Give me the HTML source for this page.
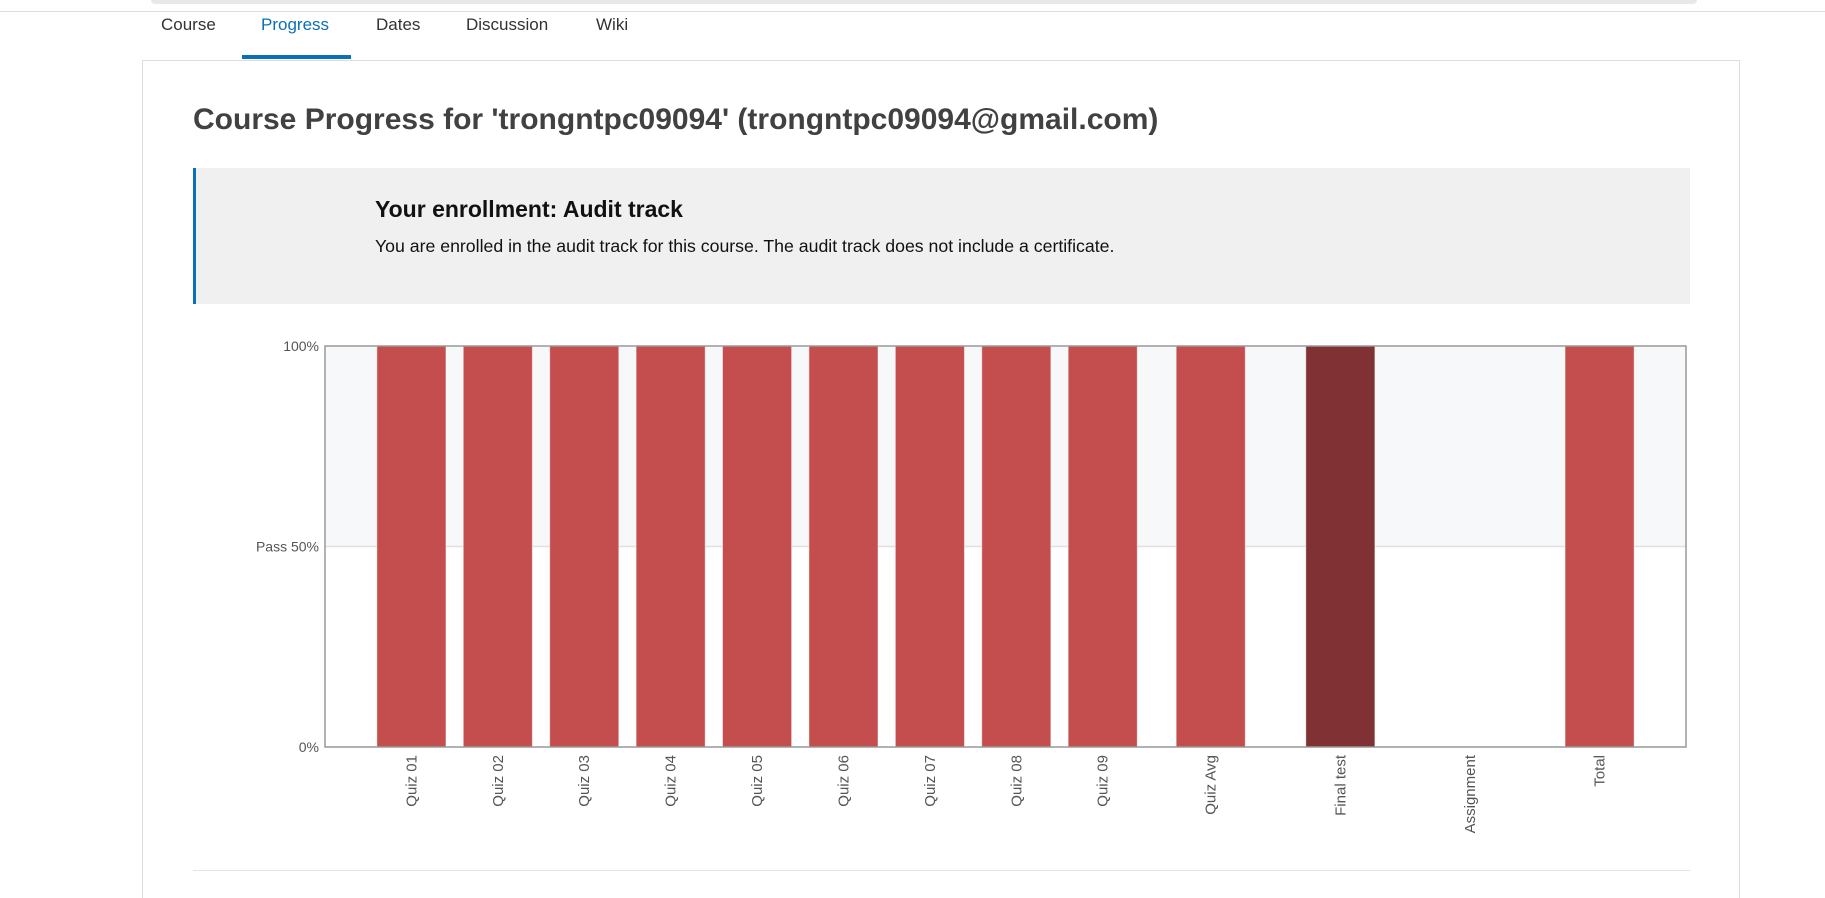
<!DOCTYPE html>
<html style="overflow:hidden;height:898px"><head><meta charset="utf-8"><style>
body{margin:0;width:1825px;height:898px;overflow:hidden;background:#fff;font-family:"Liberation Sans",sans-serif;position:relative}
.abs{position:absolute}
.tab{position:absolute;top:15px;font-size:17px;color:#333}
</style></head><body>
<div class="abs" style="left:151px;top:0;width:1546px;height:4px;background:#e8e8e8;border-radius:0 0 6px 6px"></div>
<div class="abs" style="left:0;top:11px;width:1825px;height:1px;background:#ddd"></div>
<div class="tab" style="left:161px">Course</div>
<div class="tab" style="left:261px;color:#0a70b8">Progress</div>
<div class="tab" style="left:376px">Dates</div>
<div class="tab" style="left:466px">Discussion</div>
<div class="tab" style="left:596px">Wiki</div>
<div class="abs" style="left:242px;top:55px;width:109px;height:4px;background:#0a70b8"></div>
<div class="abs" style="left:142px;top:60px;width:1598px;height:838px;border:1px solid #ddd;border-bottom:none;box-sizing:border-box"></div>
<div class="abs" style="left:193px;top:103px;font-size:30px;font-weight:bold;color:#414141">Course Progress for 'trongntpc09094' (trongntpc09094@gmail.com)</div>
<div class="abs" style="left:193px;top:168px;width:1497px;height:136px;background:#f0f0f0;border-left:3px solid #0a70b8;box-sizing:border-box"></div>
<div class="abs" style="left:375px;top:196px;font-size:23px;font-weight:bold;color:#111">Your enrollment: Audit track</div>
<div class="abs" style="left:375px;top:236px;font-size:17.7px;color:#111">You are enrolled in the audit track for this course. The audit track does not include a certificate.</div>
<svg class="abs" style="left:0;top:0" width="1825" height="898" id="chart"></svg>
<div class="abs" style="left:193px;top:870px;width:1497px;height:1px;background:#e4e4e4"></div>
<script>
const categories=["Quiz 01","Quiz 02","Quiz 03","Quiz 04","Quiz 05","Quiz 06","Quiz 07","Quiz 08","Quiz 09","Quiz Avg","Final test","Assignment","Total"];
const xPositions=[1,2,3,4,5,6,7,8,9,10.25,11.75,13.25,14.75];
const scores=[100,100,100,100,100,100,100,100,100,100,100,0,100];
const barKinds=["quiz","quiz","quiz","quiz","quiz","quiz","quiz","quiz","quiz","quiz","final","assignment","total"];
const yTickValues=[0,50,100];
const yTickLabels=["0%","Pass 50%","100%"];
const NS="http://www.w3.org/2000/svg";
const svg=document.getElementById('chart');
const L=325,R=1686,T=346,B=747,xmin=0,xmax=15.75,barW=0.8;
const xs=v=>L+(v-xmin)/(xmax-xmin)*(R-L);
const ys=v=>B-v/100*(B-T);
function mk(tag,attrs){const e=document.createElementNS(NS,tag);for(const k in attrs)e.setAttribute(k,attrs[k]);svg.appendChild(e);return e;}
let e=mk('rect',{x:L,y:T,width:R-L,height:ys(50)-T,fill:'#f7f8f9'});


e=mk('line',{x1:L,x2:R,y1:ys(50),y2:ys(50),stroke:'#e0e0e0','stroke-width':1.5});


categories.forEach((c,i)=>{
  const x0=xs(xPositions[i]-barW/2),x1=xs(xPositions[i]+barW/2);
  if(scores[i]>0){
    const b=mk('rect',{x:x0,y:ys(scores[i]),width:x1-x0,height:ys(0)-ys(scores[i]),fill:barKinds[i]==='final'?'#7f3133':'#c44e4e',stroke:'rgba(255,255,255,0.5)','stroke-width':1});
    
    
  }
  const cx=xs(xPositions[i]);
  const t=mk('text',{x:0,y:0,transform:`translate(${cx+5},755) rotate(-90)`,'text-anchor':'end','font-size':15,fill:'#555','font-family':'Liberation Sans, sans-serif'});
  t.textContent=c;
  
  
});
yTickValues.forEach((v,i)=>{
  const t=mk('text',{x:319,y:ys(v)+5,'text-anchor':'end','font-size':14,fill:'#555','font-family':'Liberation Sans, sans-serif'});
  t.textContent=yTickLabels[i];
  
  
});
e=mk('rect',{x:L,y:T,width:R-L,height:B-T,fill:'none',stroke:'#999','stroke-width':1.5});


</script>
</body></html>
